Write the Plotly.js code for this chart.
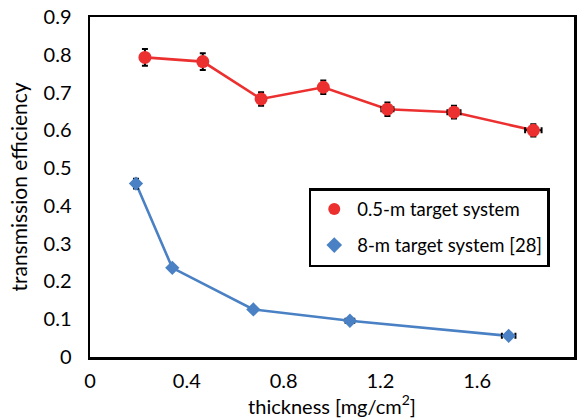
<!DOCTYPE html>
<html>
<head>
<meta charset="utf-8">
<script src="https://cdn.plot.ly/plotly-3.0.1.min.js"></script>
<style>html,body{margin:0;padding:0;background:#fff;}#chart{width:579px;height:419px;}</style>
</head>
<body>
<div id="chart"></div>
<script>
// 0.5-m target system
const redThickness = [0.227, 0.466, 0.707, 0.964, 1.229, 1.504, 1.832];
const redEfficiency = [0.793, 0.782, 0.683, 0.714, 0.656, 0.648, 0.600];
const redErrY = [0.022, 0.022, 0.018, 0.018, 0.018, 0.017, 0.016];
const redErrX = [0.008, 0.008, 0.010, 0.012, 0.025, 0.027, 0.034];
// 8-m target system [28]
const blueThickness = [0.19, 0.34, 0.675, 1.074, 1.73];
const blueEfficiency = [0.459, 0.236, 0.126, 0.096, 0.056];
const blueErrY = [0.013, 0.004, 0.004, 0.004, 0.004];
const blueErrX = [0.006, 0.006, 0.010, 0.018, 0.028];

const names = ['0.5-m target system', '8-m target system [28]'];
const xTicks = [0, 0.4, 0.8, 1.2, 1.6, 2];
const xTickText = ['0', '0.4', '0.8', '1.2', '1.6', '2'];
const yTicks = [0, 0.1, 0.2, 0.3, 0.4, 0.5, 0.6, 0.7, 0.8, 0.9];
const yTickText = ['0', '0.1', '0.2', '0.3', '0.4', '0.5', '0.6', '0.7', '0.8', '0.9'];

const FONT = 'Lato, "Open Sans", sans-serif';
const RED = '#ec2f2f';
const BLUE = '#4a80c4';

const traces = [
  {
    x: redThickness, y: redEfficiency, showlegend: false,
    mode: 'lines', type: 'scatter', hoverinfo: 'skip',
    line: {color: RED, width: 2.6}
  },
  {
    x: blueThickness, y: blueEfficiency, showlegend: false,
    mode: 'lines', type: 'scatter', hoverinfo: 'skip',
    line: {color: BLUE, width: 2.6}
  },
  {
    x: redThickness, y: redEfficiency, name: names[0], legendgroup: 'a',
    mode: 'markers', type: 'scatter',
    marker: {color: RED, size: 13, symbol: 'circle'},
    error_y: {type: 'data', array: redErrY, visible: true, color: '#000', thickness: 2, width: 3},
    error_x: {type: 'data', array: redErrX, visible: true, color: '#000', thickness: 2, width: 3}
  },
  {
    x: blueThickness, y: blueEfficiency, name: names[1], legendgroup: 'b',
    mode: 'markers', type: 'scatter',
    marker: {color: BLUE, size: 11, symbol: 'diamond'},
    error_y: {type: 'data', array: blueErrY, visible: true, color: '#000', thickness: 2, width: 3},
    error_x: {type: 'data', array: blueErrX, visible: true, color: '#000', thickness: 2, width: 3}
  }
];

const layout = {
  width: 579, height: 419,
  margin: {l: 90, r: 5, t: 17, b: 62},
  paper_bgcolor: '#fff', plot_bgcolor: '#fff',
  font: {family: FONT, color: '#000', size: 18},
  showlegend: true,
  legend: {
    x: 0.452, y: 0.497, xanchor: 'left', yanchor: 'top',
    bordercolor: '#000', borderwidth: 2.5, bgcolor: '#fff',
    font: {family: FONT, size: 18.5, color: '#000'},
    traceorder: 'grouped', tracegroupgap: 9,
    itemsizing: 'constant', itemwidth: 36
  },
  xaxis: {
    range: [0, 2], tickvals: xTicks, ticktext: xTickText,
    showgrid: false, zeroline: false,
    showline: true, linecolor: '#000', linewidth: 2.5, mirror: true,
    ticks: '', ticklabelstandoff: 4,
    tickfont: {family: FONT, size: 20},
    title: {text: 'thickness [mg/cm<sup>2</sup>]', font: {family: FONT, size: 20}, standoff: 6}
  },
  yaxis: {
    range: [0, 0.9], tickvals: yTicks, ticktext: yTickText,
    showgrid: false, zeroline: false,
    showline: true, linecolor: '#000', linewidth: 2.5, mirror: true,
    ticks: '', ticklabelstandoff: 12,
    tickfont: {family: FONT, size: 20},
    title: {text: 'transmission efficiency', font: {family: FONT, size: 21}, standoff: 10}
  }
};

Plotly.newPlot('chart', traces, layout, {displayModeBar: false, staticPlot: true});
</script>
</body>
</html>
